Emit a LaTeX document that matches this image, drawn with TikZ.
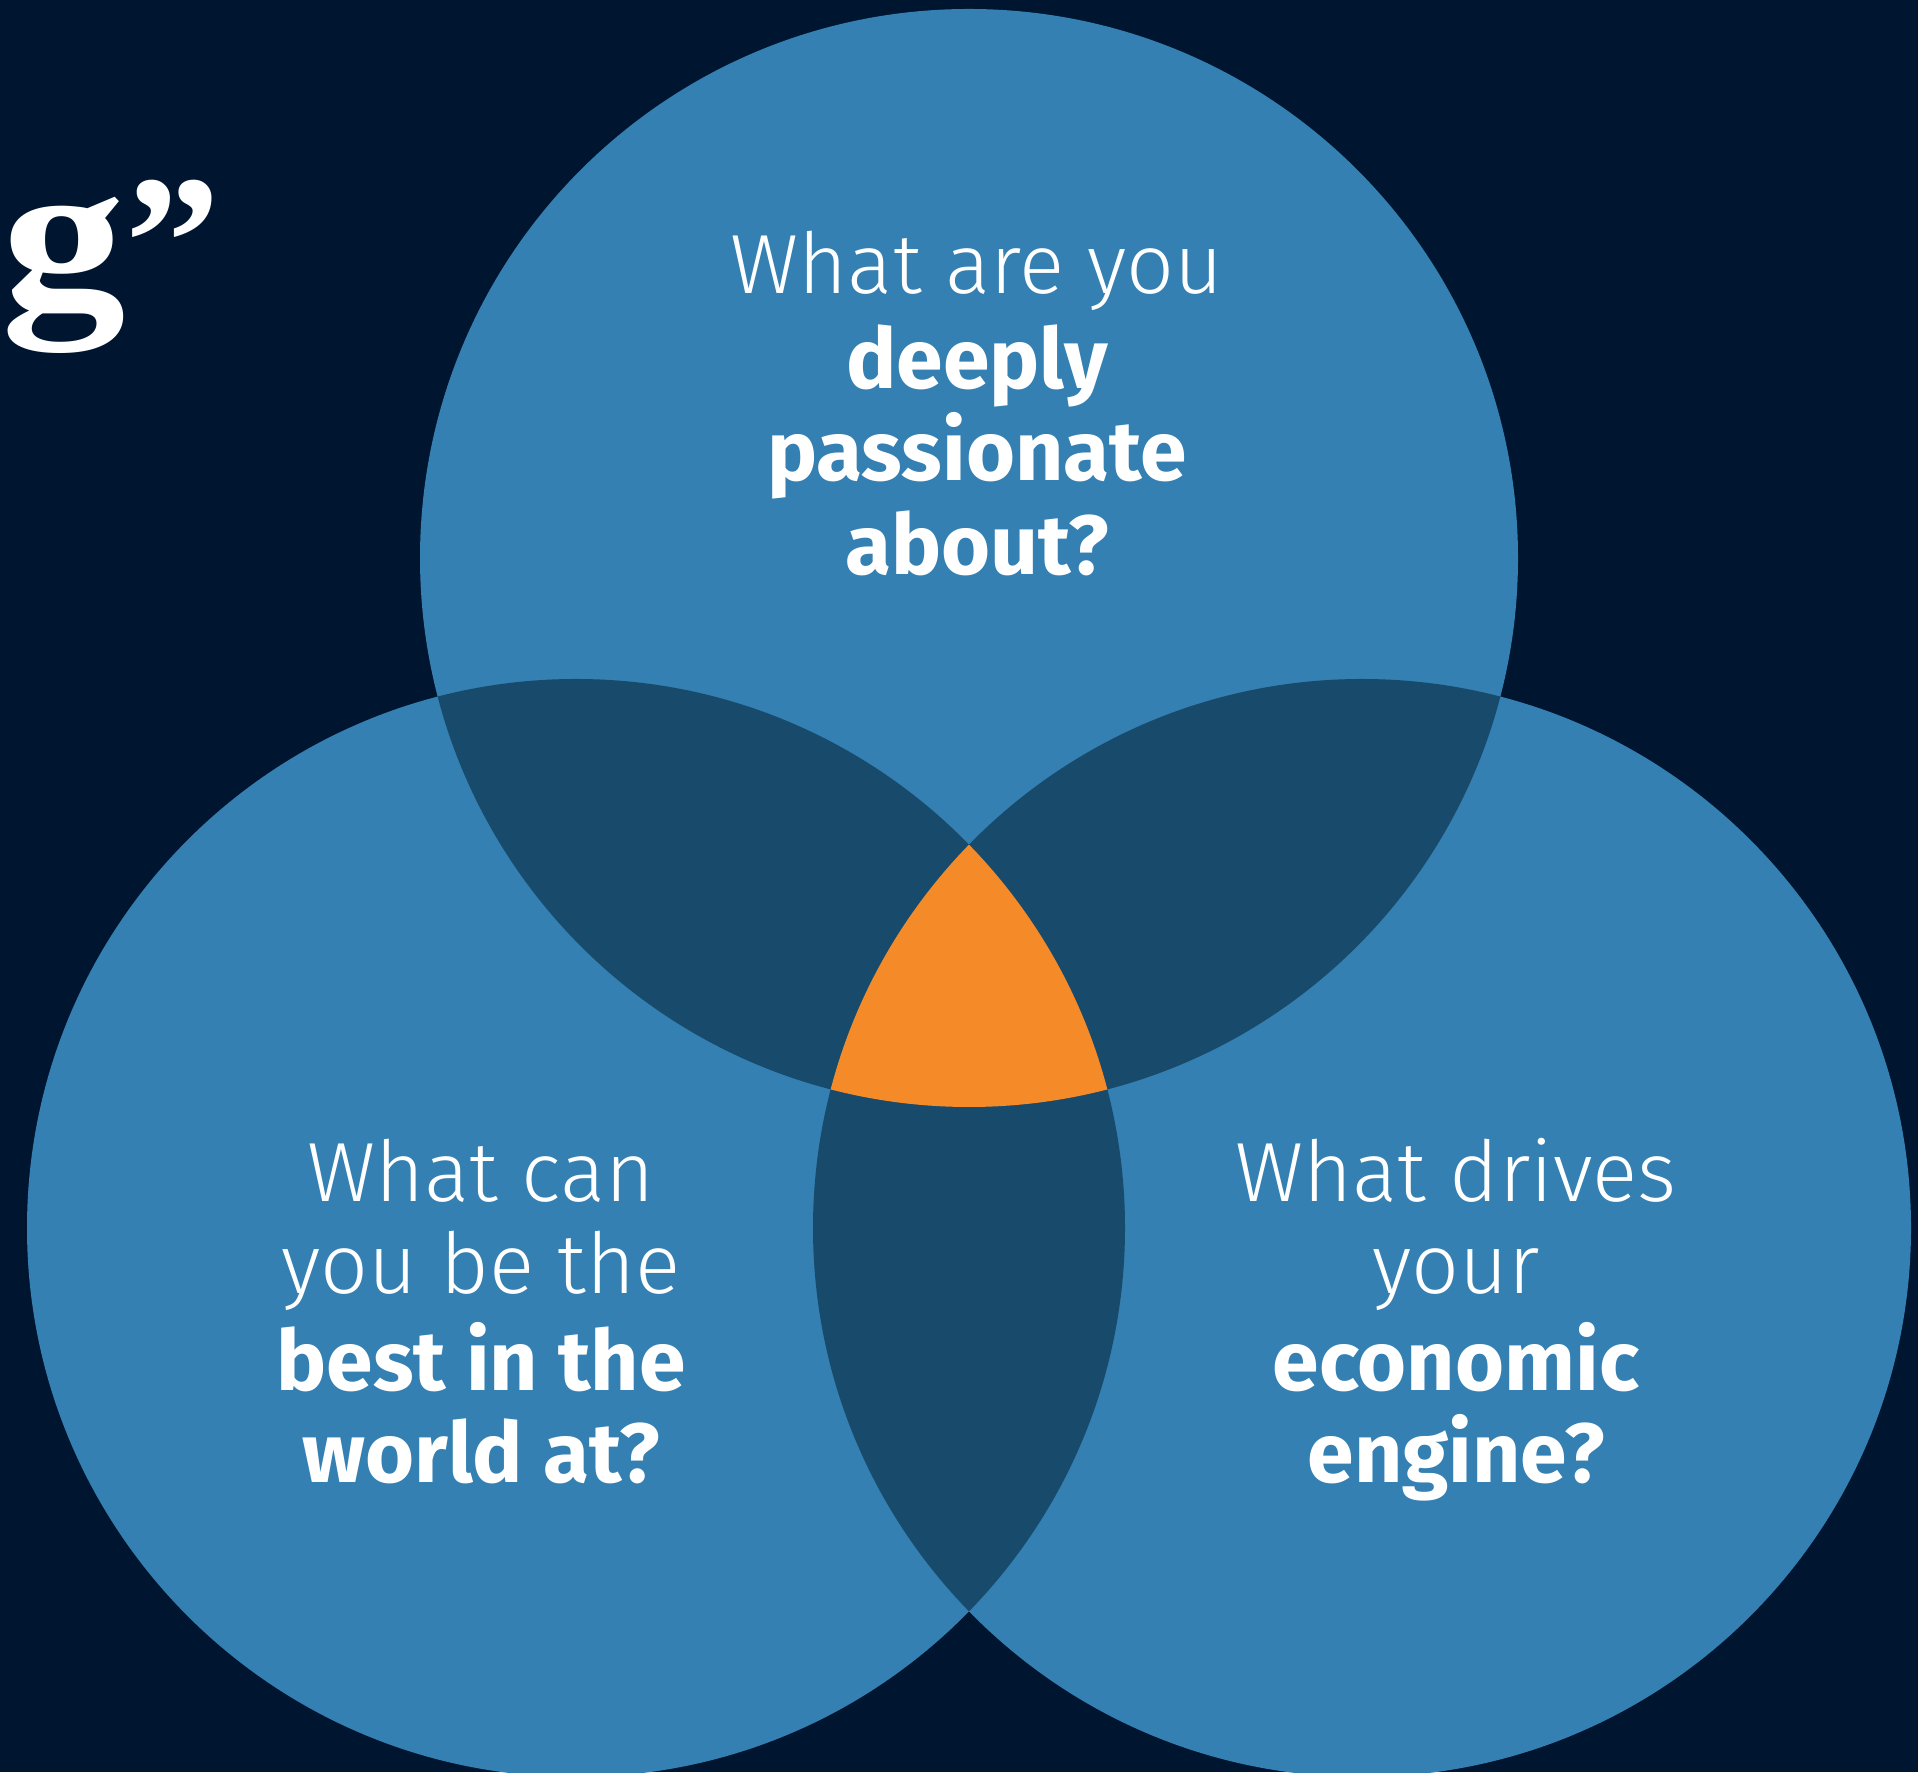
\documentclass[tikz,border=0pt]{standalone}
\usepackage{fontspec}
\setmainfont{Fira Sans}[UprightFont={* Light}, BoldFont={* Bold}]
\newfontfamily\quotefont{Liberation Serif}
\newfontfamily\widefont{Liberation Serif}[FakeStretch=1.17]
\definecolor{bgnavy}{HTML}{00152F}
\definecolor{ringblue}{HTML}{3480B2}
\definecolor{overlap}{HTML}{174A6B}
\definecolor{core}{HTML}{F58B28}
\tikzset{
  line light/.style={anchor=base, text=white, inner sep=0pt, font=\fontsize{84}{84}\selectfont},
  line bold/.style={anchor=base, text=white, inner sep=0pt, font=\fontsize{84}{84}\selectfont\bfseries},
}
\begin{document}
\begin{tikzpicture}[x=1pt,y=1pt]
  % canvas
  \fill[bgnavy] (0,0) rectangle (1918,1772);
  \useasboundingbox (0,0) rectangle (1918,1772);
  \clip (0,0) rectangle (1918,1772);

  % circle centres
  \coordinate (T) at (969,1214);
  \coordinate (L) at (576,544);
  \coordinate (R) at (1362,544);
  \def\rad{549pt}

  % the three discs
  \fill[ringblue] (T) circle (\rad);
  \fill[ringblue] (L) circle (\rad);
  \fill[ringblue] (R) circle (\rad);

  % pairwise overlaps
  \begin{scope}
    \clip (T) circle (\rad);
    \fill[overlap] (L) circle (\rad);
    \fill[overlap] (R) circle (\rad);
  \end{scope}
  \begin{scope}
    \clip (L) circle (\rad);
    \fill[overlap] (R) circle (\rad);
  \end{scope}

  % common centre
  \begin{scope}
    \clip (T) circle (\rad);
    \clip (L) circle (\rad);
    \fill[core] (R) circle (\rad);
  \end{scope}

  % heading fragment
  \node[anchor=base west, text=white, inner sep=0pt] (head) at (1,1465)
    {{\widefont\bfseries\fontsize{213}{213}\selectfont g}{\quotefont\bfseries\fontsize{190}{190}\selectfont ”}};

  % top circle
  \node[line light] (t1) at (977,1478) {What are you};
  \node[line bold]  (t2) at (977,1383) {deeply};
  \node[line bold]  (t3) at (977,1291) {passionate};
  \node[line bold]  (t4) at (977,1197) {about?};

  % left circle
  \node[line light] (l1) at (481,570) {What can};
  \node[line light] (l2) at (481,478) {you be the};
  \node[line bold]  (l3) at (481,381) {best in the};
  \node[line bold]  (l4) at (481,289) {world at?};

  % right circle
  \node[line light] (r1) at (1456,570) {What drives};
  \node[line light] (r2) at (1456,478) {your};
  \node[line bold]  (r3) at (1456,381) {economic};
  \node[line bold]  (r4) at (1456,289) {engine?};
\end{tikzpicture}
\end{document}
